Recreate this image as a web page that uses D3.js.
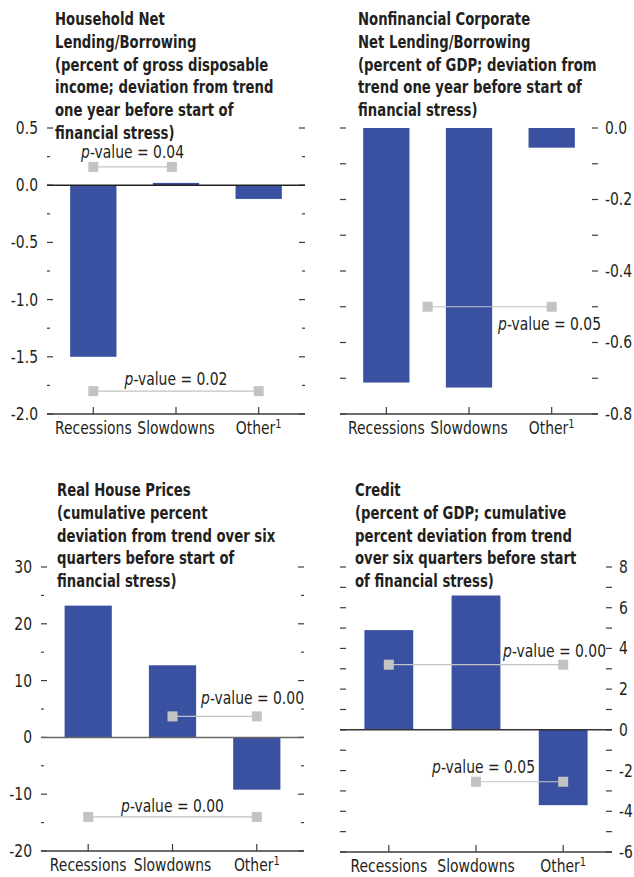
<!DOCTYPE html>
<html>
<head>
<meta charset="utf-8">
<script src="https://cdn.jsdelivr.net/npm/d3@7"></script>
<style>
  html, body { margin: 0; padding: 0; background: #fff; }
  svg text { font-family: "DejaVu Sans Condensed", "DejaVu Sans", sans-serif; fill: #231f20; }
  .title { font-weight: bold; font-size: 17.5px; }
  .tick-label, .cat-label, .pval { font-size: 17px; }
</style>
</head>
<body>
<svg id="chart" width="634" height="877"></svg>
<script>
// Stress-episode categories shared by all four panels
const categories = ["Recessions", "Slowdowns", "Other"];

// Panel titles
const titleHousehold = ["Household Net", "Lending/Borrowing", "(percent of gross disposable", "income; deviation from trend", "one year before start of", "financial stress)"];
const titleCorporate = ["Nonfinancial Corporate", "Net Lending/Borrowing", "(percent of GDP; deviation from", "trend one year before start of", "financial stress)"];
const titleHouse = ["Real House Prices", "(cumulative percent", "deviation from trend over six", "quarters before start of", "financial stress)"];
const titleCredit = ["Credit", "(percent of GDP; cumulative", "percent deviation from trend", "over six quarters before start", "of financial stress)"];

// Bar values per category
const householdValues = [-1.50, 0.02, -0.12];
const corporateValues = [-0.712, -0.726, -0.055];
const housePriceValues = [23.2, 12.7, -9.2];
const creditValues = [4.9, 6.6, -3.7];

// Y-axis domains
const householdDomain = [-2.0, 0.5];
const corporateDomain = [-0.8, 0.0];
const housePriceDomain = [-20, 30];
const creditDomain = [-6, 8];

// p-value brackets: [from category index, to category index, y level, label]
const householdPvals = [[0, 0.95, 0.16, "0.04"], [0, 2, -1.8, "0.02"]];
const corporatePvals = [[0.5, 2, -0.5, "0.05"]];
const housePricePvals = [[1, 2, 3.7, "0.00"], [0, 2, -14, "0.00"]];
const creditPvals = [[0, 2, 3.2, "0.00"], [1, 2, -2.55, "0.05"]];

const svg = d3.select("#chart");
const barColor = "#3a51a2";
const markerColor = "#c3c3c3";
const axisColor = "#3b3b3b";

// horizontal condensing so the wide fallback face reads like a condensed face
const titleSqueeze = 0.84;
const labelSqueeze = 0.91;

function placeText(parent, cls, x, y, squeeze, anchor) {
  return parent.append("text").attr("class", cls)
    .attr("transform", `translate(${x},${y}) scale(${squeeze},1)`)
    .attr("text-anchor", anchor || "start");
}

const panels = [
  { title: titleHousehold, titleX: 55, titleY: 25, values: householdValues, domain: householdDomain,
    left: 47, right: 305, top: 128, bottom: 414, minorStep: 0.25, majorStep: 0.5, fmt: d3.format(".1f"), side: "left",
    zeroColor: "#222",
    pvals: householdPvals,
    pvalText: [{ dy: -9, anchor: "middle", mid: true }, { dy: -6, anchor: "middle", mid: true }] },
  { title: titleCorporate, titleX: 358, titleY: 25, values: corporateValues, domain: corporateDomain,
    left: 340, right: 598, top: 128, bottom: 414, minorStep: 0.1, majorStep: 0.2, fmt: d3.format(".1f"), side: "right",
    zeroColor: "#222",
    pvals: corporatePvals,
    pvalText: [{ anchor: "end", atX: 601, dy: 23 }] },
  { title: titleHouse, titleX: 57, titleY: 496, values: housePriceValues, domain: housePriceDomain,
    left: 41, right: 304, top: 567, bottom: 851, minorStep: 5, majorStep: 10, fmt: d3.format("d"), side: "left",
    zeroColor: "#666",
    pvals: housePricePvals,
    pvalText: [{ anchor: "end", atX: 304, dy: -12 }, { dy: -5, anchor: "middle", mid: true }] },
  { title: titleCredit, titleX: 355, titleY: 496, values: creditValues, domain: creditDomain,
    left: 340, right: 612, top: 567, bottom: 852, minorStep: 1, majorStep: 2, fmt: d3.format("d"), side: "right",
    zeroColor: "#333",
    pvals: creditPvals,
    pvalText: [{ anchor: "end", atX: 606, dy: -8 }, { anchor: "end", atX: 535, dy: -9 }] }
];

function drawPanel(p) {
  const g = svg.append("g");
  const y = d3.scaleLinear().domain(p.domain).range([p.bottom, p.top]);
  const x = d3.scaleBand().domain(categories).range([p.left, p.right])
    .paddingInner(0.44).paddingOuter(0.28);
  const centerOf = i => {
    const a = x(categories[Math.floor(i)]) + x.bandwidth() / 2;
    return a + (i - Math.floor(i)) * x.step();
  };

  // Title
  const t = placeText(g, "title", p.titleX, p.titleY, titleSqueeze);
  p.title.forEach((line, i) => {
    t.append("tspan").attr("x", 0).attr("dy", i === 0 ? 0 : 22.8).text(line);
  });

  // Ticks on both sides, pointing inward
  const nMinor = Math.round((p.domain[1] - p.domain[0]) / p.minorStep);
  const tickVals = d3.range(nMinor + 1).map(k => +(p.domain[0] + k * p.minorStep).toFixed(4));
  const isMajor = v => Math.abs(v / p.majorStep - Math.round(v / p.majorStep)) < 1e-6;
  const tickLen = v => (p.side === "left" && !isMajor(v)) ? 3 : 6;

  tickVals.forEach(v => {
    const len = tickLen(v);
    g.append("line").attr("x1", p.left).attr("x2", p.left + len)
      .attr("y1", y(v)).attr("y2", y(v)).attr("stroke", axisColor).attr("stroke-width", 1.2);
    g.append("line").attr("x1", p.right - len).attr("x2", p.right)
      .attr("y1", y(v)).attr("y2", y(v)).attr("stroke", axisColor).attr("stroke-width", 1.2);
  });

  // Tick labels
  tickVals.filter(isMajor).forEach(v => {
    placeText(g, "tick-label", p.side === "left" ? p.left - 9 : p.right + 7, y(v), labelSqueeze,
      p.side === "left" ? "end" : "start")
      .attr("dy", "0.35em")
      .text(p.fmt(v).replace("\u2212", "-"));
  });

  // Bars
  g.selectAll("rect.bar").data(p.values).enter().append("rect")
    .attr("class", "bar")
    .attr("x", (d, i) => x(categories[i]))
    .attr("width", x.bandwidth())
    .attr("y", d => y(Math.max(0, d)))
    .attr("height", d => Math.abs(y(d) - y(0)))
    .attr("fill", barColor);

  // Zero line
  if (p.domain[1] > 0) {
    g.append("line").attr("x1", p.left).attr("x2", p.right)
      .attr("y1", y(0)).attr("y2", y(0)).attr("stroke", p.zeroColor).attr("stroke-width", 1.5);
  }

  // Category axis along the bottom
  g.append("line").attr("x1", p.left).attr("x2", p.right)
    .attr("y1", p.bottom).attr("y2", p.bottom).attr("stroke", axisColor).attr("stroke-width", 1.5);
  categories.forEach((c, i) => {
    const cx = x(c) + x.bandwidth() / 2;
    g.append("line").attr("x1", cx).attr("x2", cx)
      .attr("y1", p.bottom).attr("y2", p.bottom - 7).attr("stroke", axisColor).attr("stroke-width", 1.2);
    const lt = placeText(g, "cat-label", cx, p.bottom + 20, labelSqueeze, "middle");
    lt.append("tspan").text(c);
    if (c === "Other") {
      lt.append("tspan").attr("font-size", "12px").attr("dy", -6).text("1");
    }
  });

  // p-value brackets
  p.pvals.forEach((pv, k) => {
    const [i0, i1, v, label] = pv;
    const x0 = centerOf(i0), x1 = centerOf(i1), yy = y(v);
    g.append("line").attr("x1", x0).attr("x2", x1).attr("y1", yy).attr("y2", yy)
      .attr("stroke", markerColor).attr("stroke-width", 1.2);
    [x0, x1].forEach(xx => {
      g.append("rect").attr("x", xx - 5).attr("y", yy - 5).attr("width", 10).attr("height", 10)
        .attr("fill", markerColor);
    });
    const opt = p.pvalText[k];
    const tx = opt.mid ? (x0 + x1) / 2 : opt.atX;
    const txt = placeText(g, "pval", tx, yy + opt.dy, labelSqueeze, opt.anchor);
    txt.append("tspan").attr("font-style", "italic").text("p");
    txt.append("tspan").text("-value = " + label);
  });
}

panels.forEach(drawPanel);
</script>
</body>
</html>
